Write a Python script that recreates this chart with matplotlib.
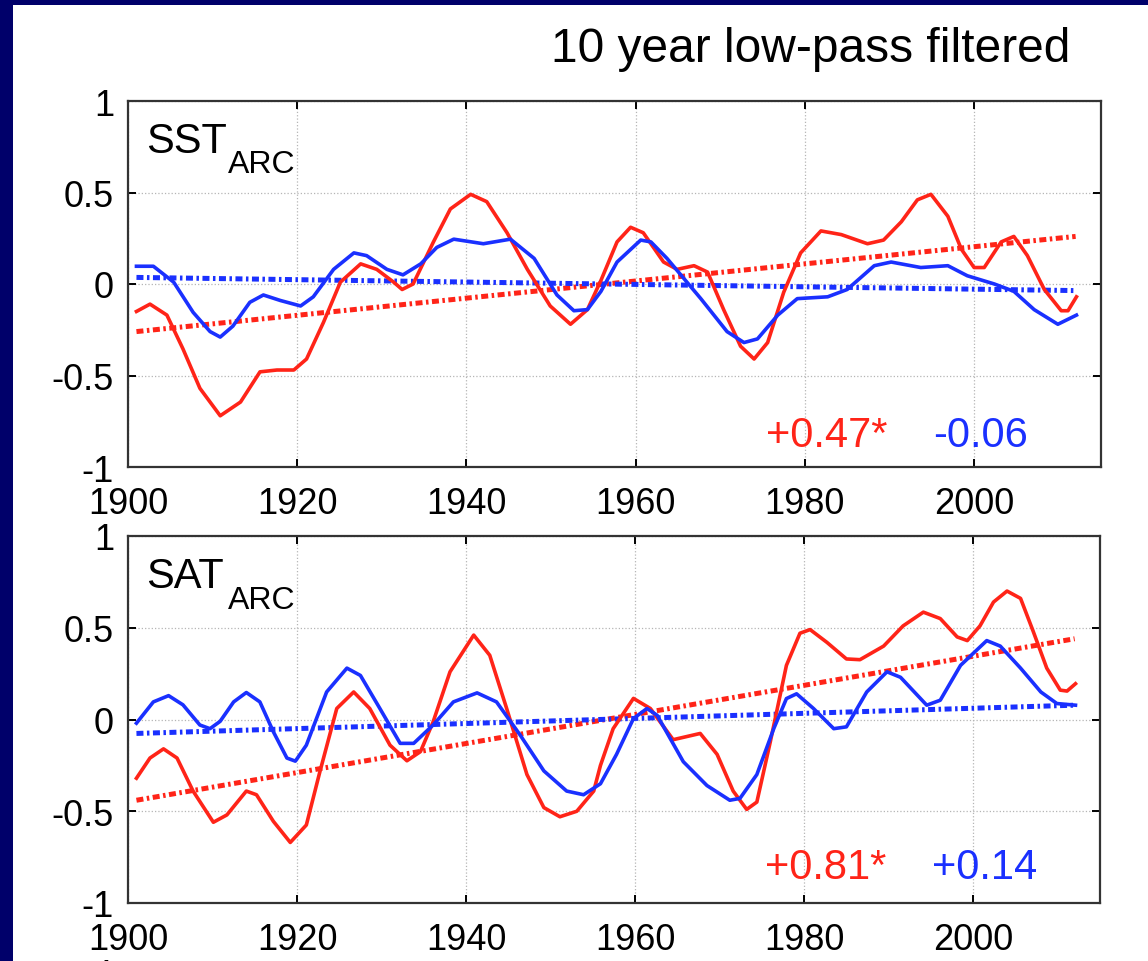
import matplotlib
matplotlib.use('Agg')
import matplotlib.pyplot as plt
from matplotlib.patches import Rectangle
import numpy as np

plt.rcParams['font.family'] = ['Liberation Sans', 'DejaVu Sans']

# ---- data ----
# top panel: SST_ARC
sst_red_years = [1901.0, 1902.6, 1904.6, 1906.5, 1908.5, 1910.9, 1913.3, 1915.6, 1917.6, 1919.6,
                 1921.1, 1923.1, 1925.1, 1927.5, 1929.4, 1931.4, 1932.4, 1933.7, 1936.1, 1938.1,
                 1940.5, 1942.4, 1944.8, 1947.2, 1949.9, 1952.3, 1954.3, 1955.9, 1957.8, 1959.4,
                 1960.9, 1963.3, 1964.9, 1966.9, 1968.5, 1970.4, 1972.4, 1974.0, 1975.6, 1977.5,
                 1979.5, 1981.9, 1984.3, 1987.4, 1989.3, 1991.4, 1993.3, 1994.9, 1996.9, 1998.5,
                 2000.0, 2001.2, 2003.2, 2004.7, 2006.3, 2008.3, 2010.3, 2011.1, 2012.1]
sst_red = [-0.15, -0.11, -0.17, -0.355, -0.57, -0.72, -0.645, -0.48, -0.47, -0.47,
           -0.41, -0.21, 0.01, 0.11, 0.08, 0.01, -0.03, 0.0, 0.23, 0.41,
           0.49, 0.45, 0.28, 0.08, -0.12, -0.22, -0.14, 0.02, 0.23, 0.31,
           0.28, 0.12, 0.08, 0.10, 0.065, -0.14, -0.34, -0.41, -0.32, -0.045,
           0.17, 0.29, 0.27, 0.22, 0.24, 0.34, 0.46, 0.49, 0.37, 0.19,
           0.09, 0.09, 0.23, 0.26, 0.155, -0.03, -0.146, -0.146, -0.07]

sst_blue_years = [1901.0, 1903.0, 1905.4, 1907.7, 1909.7, 1910.9, 1912.4, 1914.4, 1916.0, 1918.0,
                  1920.4, 1921.9, 1924.3, 1926.7, 1928.2, 1930.6, 1932.5, 1934.6, 1936.5, 1938.5,
                  1942.0, 1945.2, 1948.0, 1950.7, 1952.7, 1954.3, 1955.9, 1957.8, 1960.6, 1961.8,
                  1963.7, 1967.7, 1970.8, 1972.8, 1974.4, 1976.8, 1979.1, 1982.7, 1985.0, 1988.2,
                  1990.2, 1993.7, 1996.9, 1999.2, 2002.4, 2004.7, 2007.1, 2009.9, 2012.1]
sst_blue = [0.097, 0.097, 0.01, -0.155, -0.26, -0.29, -0.23, -0.10, -0.06, -0.09,
            -0.12, -0.07, 0.08, 0.17, 0.155, 0.08, 0.05, 0.11, 0.20, 0.245,
            0.22, 0.245, 0.14, -0.06, -0.146, -0.14, -0.04, 0.12, 0.24, 0.23,
            0.14, -0.08, -0.26, -0.32, -0.30, -0.17, -0.08, -0.07, -0.03, 0.10,
            0.12, 0.09, 0.10, 0.045, 0.0, -0.04, -0.14, -0.22, -0.17]

# bottom panel: SAT_ARC
sat_red_years = [1901.0, 1902.6, 1904.2, 1905.8, 1907.7, 1910.1, 1911.7, 1914.0, 1915.2, 1917.2,
                 1919.2, 1921.1, 1922.7, 1924.7, 1926.7, 1928.6, 1931.0, 1933.0, 1934.6, 1936.1,
                 1938.1, 1940.9, 1942.8, 1944.8, 1947.2, 1949.2, 1951.1, 1953.1, 1955.1, 1955.9,
                 1957.4, 1959.8, 1961.8, 1964.5, 1967.7, 1969.7, 1971.6, 1973.2, 1974.4, 1976.0,
                 1977.9, 1979.5, 1980.7, 1982.7, 1985.0, 1986.6, 1989.4, 1991.7, 1994.1, 1996.1,
                 1998.1, 1999.3, 2000.8, 2002.4, 2004.0, 2005.6, 2007.1, 2008.7, 2010.3, 2011.1,
                 2012.1]
sat_red = [-0.32, -0.21, -0.16, -0.21, -0.39, -0.56, -0.52, -0.39, -0.41, -0.555,
           -0.67, -0.575, -0.285, 0.06, 0.15, 0.06, -0.14, -0.225, -0.175, -0.013,
           0.26, 0.46, 0.35, 0.06, -0.30, -0.48, -0.53, -0.50, -0.39, -0.25,
           -0.05, 0.115, 0.06, -0.11, -0.076, -0.19, -0.39, -0.49, -0.45, -0.12,
           0.295, 0.47, 0.49, 0.42, 0.33, 0.326, 0.40, 0.51, 0.585, 0.55,
           0.45, 0.43, 0.51, 0.64, 0.70, 0.66, 0.48, 0.28, 0.16, 0.155,
           0.195]

sat_blue_years = [1901.0, 1903.0, 1904.8, 1906.5, 1908.5, 1909.7, 1910.9, 1912.5, 1914.0, 1915.6,
                  1917.2, 1918.8, 1919.8, 1921.1, 1923.5, 1925.9, 1927.5, 1929.8, 1932.2, 1933.8,
                  1936.1, 1938.5, 1941.3, 1943.6, 1946.4, 1949.2, 1951.9, 1953.9, 1955.9, 1957.8,
                  1959.8, 1961.4, 1962.6, 1965.7, 1968.5, 1971.2, 1972.4, 1974.4, 1976.4, 1977.9,
                  1979.1, 1981.1, 1983.5, 1985.0, 1987.4, 1989.8, 1991.4, 1994.5, 1996.1, 1998.5,
                  2001.6, 2003.2, 2005.6, 2008.0, 2009.9, 2012.1]
sat_blue = [-0.02, 0.096, 0.13, 0.08, -0.03, -0.05, -0.01, 0.096, 0.147, 0.096,
            -0.067, -0.21, -0.227, -0.14, 0.15, 0.28, 0.24, 0.06, -0.13, -0.13,
            -0.03, 0.096, 0.145, 0.096, -0.085, -0.28, -0.39, -0.41, -0.35, -0.19,
            0.005, 0.06, 0.023, -0.23, -0.36, -0.44, -0.43, -0.30, -0.05, 0.114,
            0.14, 0.06, -0.05, -0.04, 0.15, 0.26, 0.23, 0.078, 0.105, 0.295,
            0.43, 0.40, 0.28, 0.15, 0.087, 0.078]

# linear trend lines (end points)
trend_years = [1901, 2012]
sst_red_trend = [-0.26, 0.26]
sst_blue_trend = [0.036, -0.036]
sat_red_trend = [-0.44, 0.44]
sat_blue_trend = [-0.076, 0.078]

# trend labels
sst_labels = ['+0.47*', '-0.06']
sat_labels = ['+0.81*', '+0.14']

RED = '#ff2418'
BLUE = '#1a30ff'
NAVY = '#00006a'

fig = plt.figure(figsize=(11.48, 9.62), dpi=100)
fig.patch.set_facecolor('white')
# navy frame on top and left
fig.patches.append(Rectangle((0, 1 - 6 / 962), 1, 6 / 962, transform=fig.transFigure,
                             facecolor=NAVY, edgecolor='none', zorder=-1))
fig.patches.append(Rectangle((0, 0), 13 / 1148, 1, transform=fig.transFigure,
                             facecolor=NAVY, edgecolor='none', zorder=-1))

W, H = 1148, 962
ax1 = fig.add_axes([128 / W, (H - 468) / H, (1101 - 128) / W, (468 - 102) / H])
ax2 = fig.add_axes([128 / W, (H - 904) / H, (1100 - 128) / W, (904 - 537) / H])

trend_dash = (0, (1.4, 0.7, 0.5, 0.7))

panels = [
    (ax1, sst_red_years, sst_red, sst_blue_years, sst_blue, sst_red_trend, sst_blue_trend,
     'SST', sst_labels, -0.885),
    (ax2, sat_red_years, sat_red, sat_blue_years, sat_blue, sat_red_trend, sat_blue_trend,
     'SAT', sat_labels, -0.865),
]

for ax, ry, rv, by, bv, rt, bt, name, labels, ylab in panels:
    ax.plot(trend_years, rt, color=RED, lw=3.6, linestyle=trend_dash, zorder=3)
    ax.plot(trend_years, bt, color=BLUE, lw=3.6, linestyle=trend_dash, zorder=3)
    ax.plot(ry, rv, color=RED, lw=2.6, zorder=4, solid_joinstyle='round')
    ax.plot(by, bv, color=BLUE, lw=2.6, zorder=5, solid_joinstyle='round')

    ax.set_xlim(1900, 2015)
    ax.set_ylim(-1, 1)
    ax.set_xticks([1900, 1920, 1940, 1960, 1980, 2000])
    ax.set_yticks([-1, -0.5, 0, 0.5, 1])
    ax.set_yticklabels(['-1', '-0.5', '0', '0.5', '1'])
    ax.grid(True, linestyle=':', color='#b5b5b5', lw=0.9)
    ax.set_axisbelow(True)
    ax.tick_params(direction='in', length=6, width=1.4, top=True, right=True,
                   labelsize=26, colors='black')
    ax.tick_params(axis='y', pad=10)
    ax.tick_params(axis='x', pad=14)
    for sp in ax.spines.values():
        sp.set_linewidth(1.6)
        sp.set_color('#333333')

    ax.text(0.0185, 0.861, name, transform=ax.transAxes, fontsize=30, va='baseline', ha='left')
    ax.text(0.1028, 0.805, 'ARC', transform=ax.transAxes, fontsize=23, va='baseline', ha='left')

    ax.text(1975.4, ylab, labels[0], color=RED, fontsize=30, va='baseline', ha='left')
    ax.text(1995.1, ylab, labels[1], color=BLUE, fontsize=30, va='baseline', ha='left')

fig.text(1070 / W, 1 - 50 / H, '10 year low-pass filtered', fontsize=34.5, ha='right', va='center')
# top of a third panel's "1" label, cut by the bottom edge
fig.text(105 / W, 1 - 959 / H, '1', fontsize=26, ha='center', va='top')

fig.savefig('out.png', dpi=100, facecolor=fig.get_facecolor())
